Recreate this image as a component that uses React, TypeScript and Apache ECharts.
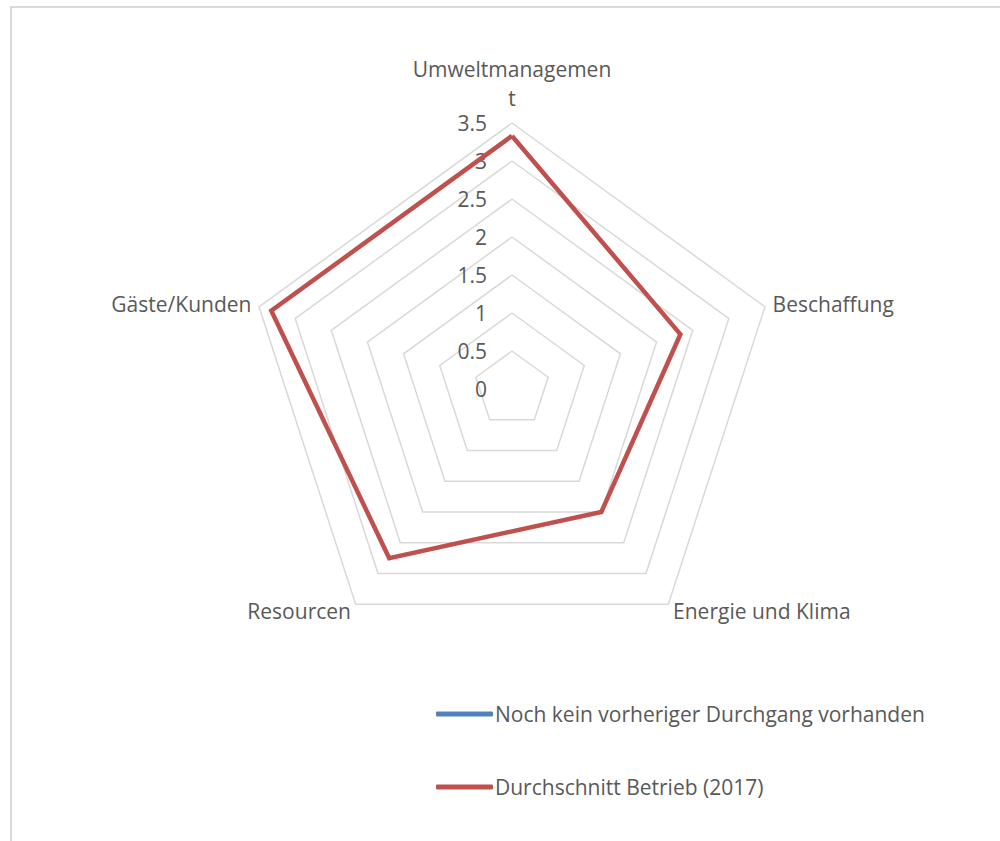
import React, { useEffect, useRef } from "react";
import * as echarts from "echarts";

// Indicators listed in the order ECharts draws them (counter-clockwise from the top),
// so the chart reads clockwise: Umweltmanagement, Beschaffung, Energie und Klima, Resourcen, Gäste/Kunden.
const indicatorNames = ["Umweltmanagemen\nt", "Gäste/Kunden", "Resourcen", "Energie und Klima", "Beschaffung"];
const axisMax = 3.5;
const axisSplits = 7;
const seriesNames = ["Noch kein vorheriger Durchgang vorhanden", "Durchschnitt Betrieb (2017)"];
const previousValues: (number | string)[] = ["-", "-", "-", "-", "-"];
const averageValues = [3.33, 3.33, 2.75, 2.0, 2.33];
const seriesColors = ["#4f81bd", "#c0504d"];

const FONT = "Open Sans";
const TEXT = "#595959";

export default function App() {
  const ref = useRef<HTMLDivElement>(null);
  useEffect(() => {
    if (!ref.current) return;
    const chart = echarts.init(ref.current, undefined, { renderer: "svg" });
    chart.setOption({
      animation: false,
      backgroundColor: "#ffffff",
      graphic: [
        {
          type: "rect",
          shape: { x: 11, y: 7, width: 1000, height: 850 },
          style: { fill: "none", stroke: "#d9d9d9", lineWidth: 2 },
          silent: true,
        },
      ],
      legend: {
        orient: "vertical",
        left: 436,
        top: 702,
        padding: 0,
        itemGap: 49,
        itemWidth: 57,
        itemHeight: 5,
        icon: "roundRect",
        textStyle: { color: TEXT, fontSize: 21, fontFamily: FONT, lineHeight: 24, padding: [0, 0, 0, -3] },
        data: seriesNames,
      },
      radar: {
        center: [512, 389],
        radius: 266,
        shape: "polygon",
        splitNumber: axisSplits,
        startAngle: 90,
        axisName: { color: TEXT, fontSize: 21, fontFamily: FONT, lineHeight: 29 },
        nameGap: 8,
        axisLine: { show: false },
        axisTick: { show: false },
        splitArea: { show: false },
        splitLine: { lineStyle: { color: "#d9d9d9", width: 1.5 } },
        axisLabel: { show: false },
        indicator: indicatorNames.map((n, i) => ({
          name: n,
          min: 0,
          max: axisMax,
          ...(i === 0
            ? {
                axisLabel: {
                  show: true,
                  color: TEXT,
                  fontSize: 21,
                  fontFamily: FONT,
                  margin: 25,
                },
              }
            : {}),
        })),
      },
      series: [
        {
          type: "radar",
          name: seriesNames[0],
          symbol: "none",
          itemStyle: { color: seriesColors[0] },
          lineStyle: { color: seriesColors[0], width: 4.5 },
          data: [{ name: seriesNames[0], value: previousValues }],
        },
        {
          type: "radar",
          name: seriesNames[1],
          symbol: "none",
          itemStyle: { color: seriesColors[1] },
          lineStyle: { color: seriesColors[1], width: 4.5, join: "miter" },
          data: [{ name: seriesNames[1], value: averageValues }],
        },
      ],
    });
    return () => chart.dispose();
  }, []);
  return (
    <div
      ref={ref}
      style={{ position: "absolute", left: 0, top: 0, width: 1000, height: 841 }}
    />
  );
}
